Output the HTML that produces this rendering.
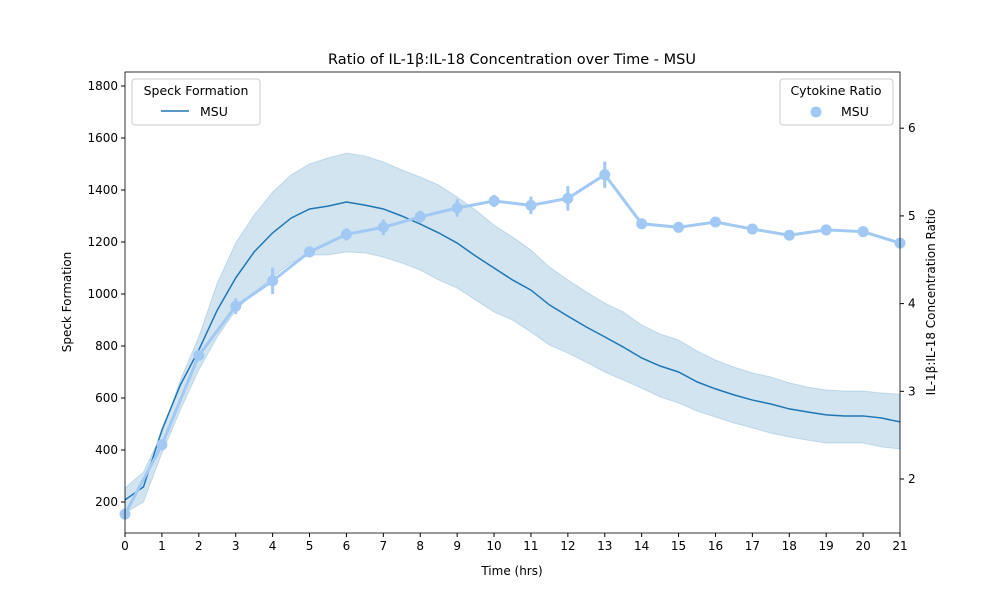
<!DOCTYPE html>
<html><head><meta charset="utf-8"><style>
body{margin:0;background:#fff;font-family:"Liberation Sans","DejaVu Sans",sans-serif}
svg text{font-family:"DejaVu Sans","Liberation Sans",sans-serif}
</style></head><body>
<svg id="c" width="1000" height="600" viewBox="0 0 1000 600"></svg>
<script>
const times=[0,0.5,1,1.5,2,2.5,3,3.5,4,4.5,5,5.5,6,6.5,7,7.5,8,8.5,9,9.5,10,10.5,11,11.5,12,12.5,13,13.5,14,14.5,15,15.5,16,16.5,17,17.5,18,18.5,19,19.5,20,20.5,21];
const speckMean=[208,258,477,650,785,938,1062,1162,1235,1292,1327,1338,1354,1342,1327,1300,1269,1235,1196,1146,1100,1054,1015,958,915,873,835,796,754,723,700,662,635,612,592,577,558,546,535,531,531,523,508];
const speckUpper=[254,315,465,669,835,1042,1196,1304,1392,1458,1500,1523,1542,1531,1508,1477,1450,1419,1373,1323,1265,1219,1169,1104,1054,1008,965,931,881,846,823,781,746,719,696,681,658,642,631,627,627,619,615];
const speckLower=[158,200,388,554,708,835,938,1004,1065,1119,1150,1150,1162,1158,1142,1119,1092,1054,1023,977,931,900,854,804,773,738,700,669,638,604,581,550,527,504,485,465,450,438,427,427,427,412,404];
const ratioTimes=[0,1,2,3,4,5,6,7,8,9,10,11,12,13,14,15,16,17,18,19,20,21];
const ratioVals=[1.60,2.39,3.41,3.97,4.26,4.59,4.79,4.87,4.99,5.09,5.17,5.12,5.20,5.47,4.91,4.87,4.93,4.85,4.78,4.84,4.82,4.69];
const ratioErr=[0.05,0.06,0.06,0.09,0.15,0.06,0.07,0.09,0.07,0.1,0.07,0.1,0.14,0.15,0.04,0.06,0.05,0.04,0.04,0.06,0.04,0.04];
const xTicks=[0,1,2,3,4,5,6,7,8,9,10,11,12,13,14,15,16,17,18,19,20,21];
const yTicks=[200,400,600,800,1000,1200,1400,1600,1800];
const y2Ticks=[2,3,4,5,6];

const L=125,R=900,T=72,B=533;
const X=t=>L+(t/21)*(R-L);
const Y=v=>554-v*0.26;
const Y2=v=>479-(v-2)*87.7;
const svg=document.getElementById('c');
const NS='http://www.w3.org/2000/svg';
function el(tag,at,txt){const e=document.createElementNS(NS,tag);for(const k in at)e.setAttribute(k,at[k]);if(txt!==undefined)e.textContent=txt;svg.appendChild(e);return e;}

let d='M'+times.map((t,i)=>X(t)+','+Y(speckUpper[i])).join('L');
for(let i=times.length-1;i>=0;i--)d+='L'+X(times[i])+','+Y(speckLower[i]);
let e=el('path',{d:d+'Z',fill:'#1f77b4','fill-opacity':0.2,stroke:'#1f77b4','stroke-opacity':0.2});


e=el('polyline',{points:times.map((t,i)=>X(t)+','+Y(speckMean[i])).join(' '),fill:'none',stroke:'#1f77b4','stroke-width':1.5});



e=el('polyline',{points:ratioTimes.map((t,i)=>X(t)+','+Y2(ratioVals[i])).join(' '),fill:'none',stroke:'#a1c9f4','stroke-width':3});


ratioTimes.forEach((t,i)=>{
  let b=el('line',{x1:X(t),x2:X(t),y1:Y2(ratioVals[i]-ratioErr[i]),y2:Y2(ratioVals[i]+ratioErr[i]),stroke:'#a1c9f4','stroke-width':3});
  
  
  let p=el('circle',{cx:X(t),cy:Y2(ratioVals[i]),r:5.5,fill:'#a1c9f4'});
  
  
});

e=el('rect',{x:L,y:T,width:R-L,height:B-T,fill:'none',stroke:'#000','stroke-width':0.8});


xTicks.forEach(t=>{
  el('line',{x1:X(t),x2:X(t),y1:B,y2:B+4,stroke:'#000'});
  let tx=el('text',{x:X(t),y:B+17,'font-size':12,'text-anchor':'middle'},t);
  
  
});
yTicks.forEach(v=>{
  el('line',{x1:L-4,x2:L,y1:Y(v),y2:Y(v),stroke:'#000'});
  let tx=el('text',{x:L-7,y:Y(v)+4,'font-size':12,'text-anchor':'end'},v);
  
  
});
y2Ticks.forEach(v=>{
  el('line',{x1:R,x2:R+4,y1:Y2(v),y2:Y2(v),stroke:'#000'});
  let tx=el('text',{x:R+8,y:Y2(v)+4,'font-size':12},v);
  
  
});
e=el('text',{x:512,y:64,'font-size':14.5,'text-anchor':'middle'},'Ratio of IL-1β:IL-18 Concentration over Time - MSU');

e=el('text',{x:512,y:575,'font-size':12,'text-anchor':'middle'},'Time (hrs)');

e=el('text',{x:71,y:302,'font-size':12,'text-anchor':'middle',transform:'rotate(-90 71 302)'},'Speck Formation');

e=el('text',{x:935,y:302,'font-size':12,'text-anchor':'middle',transform:'rotate(-90 935 302)'},'IL-1β:IL-18 Concentration Ratio');


e=el('rect',{x:132,y:79,width:128,height:46,rx:3,fill:'#fff','fill-opacity':0.8,stroke:'#ccc'});

el('text',{x:196,y:95,'font-size':12.5,'text-anchor':'middle'},'Speck Formation');
el('line',{x1:161,x2:189,y1:111,y2:111,stroke:'#1f77b4','stroke-width':1.5});
e=el('text',{x:200,y:116,'font-size':12.5},'MSU');

e=el('rect',{x:780,y:79,width:113,height:46,rx:3,fill:'#fff','fill-opacity':0.8,stroke:'#ccc'});

el('text',{x:836,y:95,'font-size':12.5,'text-anchor':'middle'},'Cytokine Ratio');
el('circle',{cx:816,cy:112,r:5.5,fill:'#a1c9f4'});
e=el('text',{x:841,y:116,'font-size':12.5},'MSU');

</script>
</body></html>
